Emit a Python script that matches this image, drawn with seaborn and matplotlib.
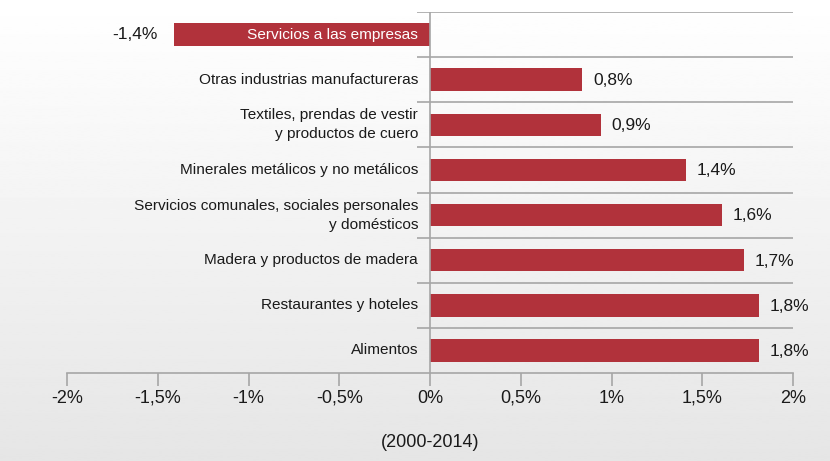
import numpy as np
import pandas as pd
import matplotlib
matplotlib.use("Agg")
import matplotlib.pyplot as plt
import seaborn as sns

# data (annual growth %, 2000-2014)
categories = [
    "Servicios a las empresas",
    "Otras industrias manufactureras",
    "Textiles, prendas de vestir\ny productos de cuero",
    "Minerales metálicos y no metálicos",
    "Servicios comunales, sociales personales\ny domésticos",
    "Madera y productos de madera",
    "Restaurantes y hoteles",
    "Alimentos",
]
values = [-1.41, 0.84, 0.94, 1.41, 1.61, 1.73, 1.81, 1.81]
xticks = [-2, -1.5, -1, -0.5, 0, 0.5, 1, 1.5, 2]
xticklabels = ["-2%", "-1,5%", "-1%", "-0,5%", "0%", "0,5%", "1%", "1,5%", "2%"]

sns.set_theme(style="white")
plt.rcParams["font.family"] = ["Liberation Sans Narrow", "Liberation Sans", "DejaVu Sans"]

BAR = "#b1323b"
GRID = "#a6a6a6"
TXT = "#1a1a1a"

fig = plt.figure(figsize=(8.30, 4.61), dpi=100)

# background gradient, white at top to light gray at bottom
bg = fig.add_axes([0, 0, 1, 1], zorder=-10)
grad = np.linspace(1.0, 0.90, 256).reshape(-1, 1)
bg.imshow(grad, aspect="auto", cmap="gray", vmin=0, vmax=1, extent=[0, 1, 0, 1])
bg.axis("off")

W, H = 830, 461
ax = fig.add_axes([67 / W, 1 - 373 / H, (793 - 67) / W, (373 - 12) / H])
ax.patch.set_alpha(0)

df = pd.DataFrame({"sector": categories, "valor": values})
sns.barplot(data=df, x="valor", y="sector", orient="h", color=BAR,
            saturation=1, width=0.5, linewidth=0, ax=ax, zorder=3)

ax.set_xlim(-2, 2)
ax.set_ylim(len(categories) - 0.5, -0.5)

for s in ["top", "right", "left"]:
    ax.spines[s].set_visible(False)
ax.spines["bottom"].set_color(GRID)
ax.spines["bottom"].set_linewidth(1.2)

# row separators and zero line
x0 = -13 / 181.5
for i in range(len(categories)):
    ax.hlines(i - 0.5, x0, 2, color=GRID, lw=1.2, zorder=1)
ax.vlines(0, -0.5, len(categories) - 0.5, color=GRID, lw=1.2, zorder=4)

ax.set_xticks(xticks)
ax.set_xticklabels(xticklabels)
ax.tick_params(axis="x", direction="out", length=9, width=1.2, color=GRID,
               labelsize=13, labelcolor=TXT, pad=3, bottom=True)

# category labels sit just left of the zero line
ax.set_yticks([])
ax.set_ylabel("")
for i, lab in enumerate(categories):
    col = "white" if values[i] < 0 else TXT
    ax.text(-12 / 181.5, i, lab, ha="right", va="center", fontsize=11.1,
            color=col, zorder=5, linespacing=1.45)

for i, v in enumerate(values):
    txt = f"{v:.1f}".replace(".", ",") + "%"
    if v < 0:
        ax.text(v - 0.09, i, txt, ha="right", va="center", fontsize=12.5, color=TXT)
    else:
        ax.text(v + 0.06, i + 0.02, txt, ha="left", va="center", fontsize=12.5, color=TXT)

ax.set_xlabel("(2000-2014)", fontsize=13, color=TXT, labelpad=20)

fig.savefig("out.png", dpi=100)
